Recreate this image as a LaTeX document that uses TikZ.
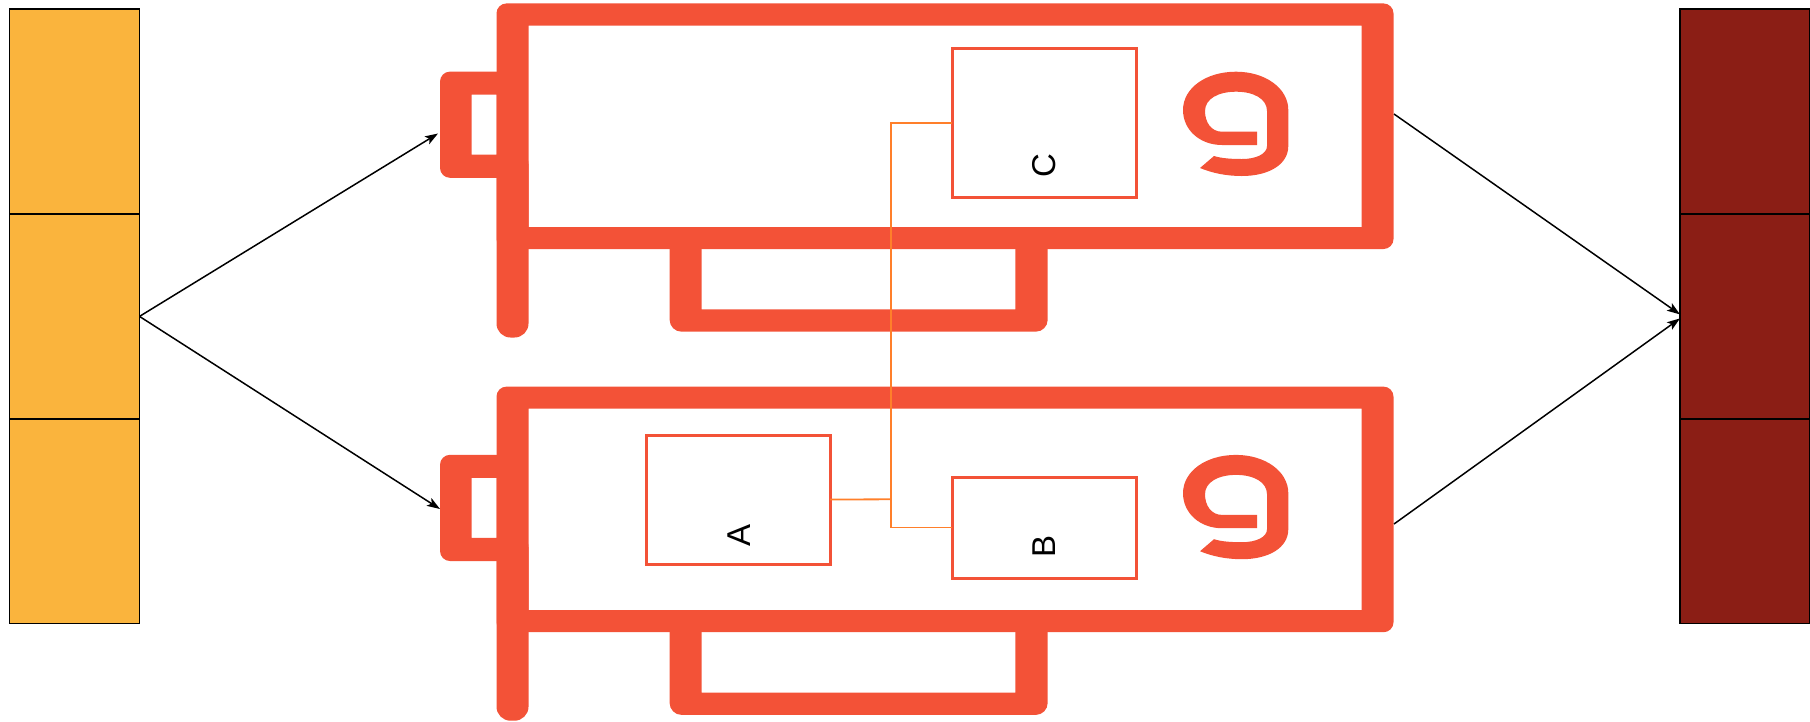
\documentclass[tikz,border=0pt]{standalone}
\usepackage{fontspec}
\setmainfont{Liberation Sans}
\usetikzlibrary{arrows.meta}

\definecolor{cardred}{RGB}{243,82,55}
\definecolor{wireorange}{RGB}{255,127,42}
\definecolor{inyellow}{RGB}{250,180,61}
\definecolor{outred}{RGB}{139,30,21}

% Card silhouette: frame, left rail, bracket, bottom tab, logo
\newcommand\cardshape[1]{%
  \path[#1] [rounded corners=10pt] (496.5,3.4) rectangle (1393.5,249)
        [sharp corners] (528.5,25.5) rectangle (1361.5,227);
  \path[#1] [rounded corners=14pt] (496.5,150) rectangle (528.5,337.5);
  \path[#1] [rounded corners=10pt] (440,71.6) rectangle (512,177.8)
        [sharp corners] (471.5,94.7) rectangle (496.5,154.7);
  \path[#1] [rounded corners=12pt] (669.6,232) rectangle (1047.7,331.7)
        [sharp corners] (701.6,240) rectangle (1015.4,309.3);
  % logo "9" as one closed outline
  \path[#1] (1257,131.7) -- (1222,131.7)
        .. controls (1211,131.7) and (1205,122) .. (1205,111)
        .. controls (1205,99) and (1218,91.7) .. (1236,91.7)
        .. controls (1254,91.7) and (1267,99) .. (1267,111)
        -- (1267,146)
        .. controls (1267,154) and (1256,159) .. (1242,159)
        .. controls (1232,159) and (1222,158.5) .. (1214,156)
        -- (1200,168)
        .. controls (1212,173) and (1226,176) .. (1242,176)
        .. controls (1268,176) and (1288.3,165) .. (1288.3,146)
        -- (1288.3,110)
        .. controls (1288.3,88) and (1265,71.7) .. (1236,71.7)
        .. controls (1206,71.7) and (1183,88) .. (1183,110)
        .. controls (1183,130) and (1200,145) .. (1222,145)
        -- (1257,145) -- cycle;
}

\begin{document}
\begin{tikzpicture}[x=1pt,y=-1pt,
  cell/.style={draw=black,line width=1.5pt,minimum width=130.2pt,
               minimum height=204.8pt,inner sep=0pt,outer sep=0pt},
  unitbox/.style={draw=cardred,line width=3pt,minimum width=184pt,
                  inner sep=0pt,outer sep=0pt},
  wire/.style={draw=wireorange,line width=1.8pt},
  flow/.style={draw=black,line width=1.5pt,
               -{Stealth[length=13pt,width=9pt,inset=3pt]}},
  letter/.style={rotate=90,font=\fontsize{33}{40}\selectfont,inner sep=0pt},
  cardfill/.style={fill=cardred,even odd rule},
  gpu/.pic={\cardshape{cardfill}}
]
\clip (0,0) rectangle (1810,721);

% input stack
\node[cell,fill=inyellow] (l1) at (74.4,111.6) {};
\node[cell,fill=inyellow] (l2) at (74.4,316.4) {};
\node[cell,fill=inyellow] (l3) at (74.4,521.2) {};

% output stack
\node[cell,fill=outred] (r1) at (1745.1,111.6) {};
\node[cell,fill=outred] (r2) at (1745.1,316.4) {};
\node[cell,fill=outred] (r3) at (1745.1,521.2) {};

% two cards
\pic at (0,0) {gpu};
\pic at (0,383.2) {gpu};

% units on the cards
\node[unitbox,minimum height=149pt] (C) at (1044,122.8) {};
\node[unitbox,minimum height=129pt] (A) at (738,499.5) {};
\node[unitbox,minimum height=101pt] (B) at (1044,527.5) {};

\node[letter] (lblC) at (1044,166) {C};
\node[letter] (lblA) at (739,535.5) {A};
\node[letter] (lblB) at (1044,546.7) {B};

% links between units
\coordinate (junc) at (891,499.3);
\draw[wire] (A.east) -- (junc);
\draw[wire] (C.west) -- (C.west -| junc) -- (B.west -| junc) -- (B.west);

% data flow
\coordinate (in1) at (438,133.5);
\coordinate (in2) at (440,509);
\coordinate (out1) at (1394,114);
\coordinate (out2) at (1394,524);
\draw[flow] (l2.east) -- (in1);
\draw[flow] (l2.east) -- (in2);
\draw[flow] (out1) -- ([yshift=2pt]r2.west);
\draw[flow] (out2) -- ([yshift=-2pt]r2.west);
\end{tikzpicture}
\end{document}
